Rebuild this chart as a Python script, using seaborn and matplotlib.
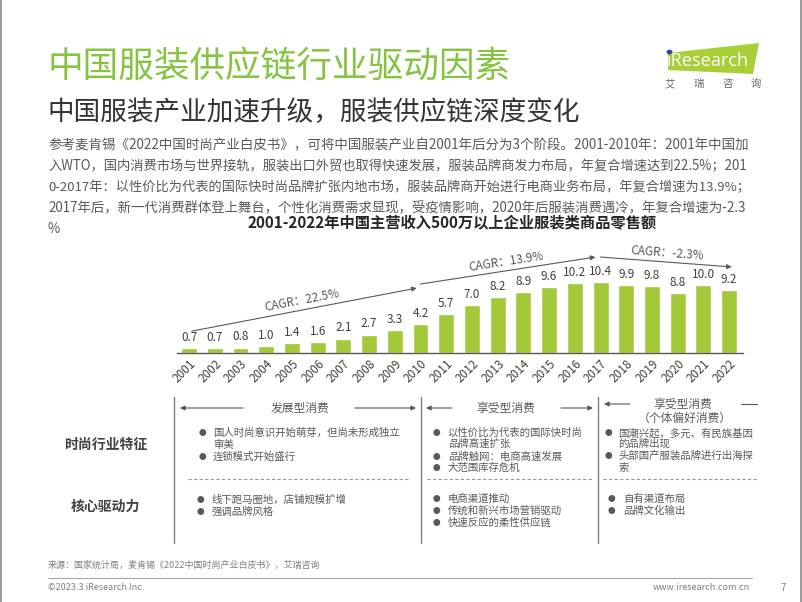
import matplotlib
matplotlib.use("Agg")
import numpy as np
import pandas as pd
import matplotlib.pyplot as plt
import seaborn as sns
from matplotlib.patches import FancyArrowPatch, Polygon, Circle
from matplotlib.lines import Line2D

# ---------------- data ----------------
years = ["2001", "2002", "2003", "2004", "2005", "2006", "2007", "2008", "2009", "2010", "2011",
         "2012", "2013", "2014", "2015", "2016", "2017", "2018", "2019", "2020", "2021", "2022"]
values = [0.7, 0.7, 0.8, 1.0, 1.4, 1.6, 2.1, 2.7, 3.3, 4.2, 5.7,
          7.0, 8.2, 8.9, 9.6, 10.2, 10.4, 9.9, 9.8, 8.8, 10.0, 9.2]
cagr_labels = ["CAGR：22.5%", "CAGR：13.9%", "CAGR：-2.3%"]

title = "中国服装供应链行业驱动因素"
subtitle = "中国服装产业加速升级，服装供应链深度变化"
paragraph = [
    "参考麦肯锡《2022中国时尚产业白皮书》，可将中国服装产业自2001年后分为3个阶段。2001-2010年：2001年中国加",
    "入WTO，国内消费市场与世界接轨，服装出口外贸也取得快速发展，服装品牌商发力布局，年复合增速达到22.5%；201",
    "0-2017年：以性价比为代表的国际快时尚品牌扩张内地市场，服装品牌商开始进行电商业务布局，年复合增速为13.9%；",
    "2017年后，新一代消费群体登上舞台，个性化消费需求显现，受疫情影响，2020年后服装消费遇冷，年复合增速为-2.3",
    "%",
]
chart_title = "2001-2022年中国主营收入500万以上企业服装类商品零售额"
row_labels = ["时尚行业特征", "核心驱动力"]
stage_labels = ["发展型消费", "享受型消费", "享受型消费\n（个体偏好消费）"]
stage1_feat = [("国人时尚意识开始萌芽，但尚未形成独立", True), ("审美", False), ("连锁模式开始盛行", True)]
stage1_drv = [("线下跑马圈地，店铺规模扩增", True), ("强调品牌风格", True)]
stage2_feat = [("以性价比为代表的国际快时尚", True), ("品牌高速扩张", False),
               ("品牌触网：电商高速发展", True), ("大范围库存危机", True)]
stage2_drv = [("电商渠道推动", True), ("传统和新兴市场营销驱动", True), ("快速反应的柔性供应链", True)]
stage3_feat = [("国潮兴起，多元、有民族基因", True), ("的品牌出现", False),
               ("头部国产服装品牌进行出海探", True), ("索", False)]
stage3_drv = [("自有渠道布局", True), ("品牌文化输出", True)]
source = "来源：国家统计局，麦肯锡《2022中国时尚产业白皮书》，艾瑞咨询"
copyright_txt = "©2023.3 iResearch Inc."
website = "www.iresearch.com.cn"
page_no = "7"

# ---------------- style ----------------
sns.set_theme(style="white")
plt.rcParams["font.family"] = ["Noto Sans CJK SC", "DejaVu Sans"]

GREEN_T = "#84C441"
BAR = "#A3C83A"
LOGO = "#A8CE38"
TXT = "#595959"
DARK = "#404040"

W, H = 802, 602
fig = plt.figure(figsize=(W / 100, H / 100), dpi=100)
fig.patch.set_facecolor("white")


def F(x, y):
    return (x / W, 1 - y / H)


def T(x, y, s, **kw):
    kw.setdefault("color", TXT)
    return fig.text(x / W, 1 - y / H, s, **kw)


renderer = fig.canvas.get_renderer()


def fit(t, target):
    w = t.get_window_extent(renderer).width
    t.set_fontsize(t.get_fontsize() * target / w)


# slide border (left/right)
for xx in (0.8, 801.2):
    fig.add_artist(Line2D([xx / W, xx / W], [0, 1], transform=fig.transFigure, color="#8a8a8a", lw=1.2))

# titles
t = T(48, 67, title, fontsize=25.5, color=GREEN_T, va="center", ha="left")
fit(t, 463)
t = T(48, 112, subtitle, fontsize=19, color="#333333", va="center", ha="left")
fit(t, 532)

# logo
poly = Polygon([F(668, 53), F(759, 43), F(753, 74), F(668, 70)], closed=True,
               transform=fig.transFigure, facecolor=LOGO, edgecolor="none")
fig.add_artist(poly)
t = T(667, 61, "\u0131Research", fontsize=13, color="white", va="center", ha="left",
      family=["Open Sans", "DejaVu Sans"])
fit(t, 82)
fig.add_artist(Circle(F(669.5, 52.0), 2.2 / W, transform=fig.transFigure, color="#2B4C8C"))
for cx, ch in zip([670, 699, 728, 756], ["艾", "瑞", "咨", "询"]):
    T(cx, 84, ch, fontsize=7.5, color="#666666", ha="center", va="center")

# paragraph
ys = [145, 166, 187, 208, 229]
for i, (line, yy) in enumerate(zip(paragraph, ys)):
    t = T(48, yy, line, fontsize=9.6, va="center", ha="left")
    if i < 4:
        fit(t, 702)

# chart title
T(452, 222, chart_title, fontsize=11, color="#262626", weight="bold", ha="center", va="center")

# ---------------- bar chart ----------------
x0, x1, ybase, ytop = 177, 743, 353, 250
ax = fig.add_axes([x0 / W, 1 - ybase / H, (x1 - x0) / W, (ybase - ytop) / H])
df = pd.DataFrame({"year": years, "value": values})
sns.barplot(data=df, x="year", y="value", color=BAR, saturation=1, width=0.62, ax=ax)
ax.set_xlim(-0.47, 21.54)
ax.set_ylim(0, (ybase - ytop) / 6.83)
ax.set_facecolor("none")
for s in ["top", "right", "left"]:
    ax.spines[s].set_visible(False)
ax.spines["bottom"].set_color("#595959")
ax.spines["bottom"].set_linewidth(1.0)
ax.set_yticks([])
ax.set_xlabel("")
ax.set_ylabel("")
ax.tick_params(axis="x", length=0, pad=3, labelsize=8.5, labelcolor=DARK)
for lab in ax.get_xticklabels():
    lab.set_rotation(45)
    lab.set_ha("right")
    lab.set_va("top")
    lab.set_rotation_mode("anchor")
ax.bar_label(ax.containers[0], labels=[f"{v:.1f}" for v in values], padding=3,
             fontsize=8.5, color=DARK)

# CAGR arrows (data coordinates)
segs = [((0.1, 3.2), (8.85, 9.5)), ((9.0, 10.1), (15.8, 14.05)), ((16.0, 14.05), (21.1, 12.6))]
for (p0, p1), lab in zip(segs, cagr_labels):
    arr = FancyArrowPatch(p0, p1, transform=ax.transData, arrowstyle="-|>", mutation_scale=7,
                          color="#595959", lw=0.8, shrinkA=0, shrinkB=0, clip_on=False)
    ax.add_patch(arr)
    d0 = ax.transData.transform(p0)
    d1 = ax.transData.transform(p1)
    ang = np.degrees(np.arctan2(d1[1] - d0[1], d1[0] - d0[0]))
    mid = (d0 + d1) / 2
    nrm = np.array([-np.sin(np.radians(ang)), np.cos(np.radians(ang))])
    pos = mid + nrm * 9
    fig.text(pos[0] / W, pos[1] / H, lab, rotation=ang, rotation_mode="anchor",
             ha="center", va="center", fontsize=8.5, color=TXT)

# ---------------- table ----------------
for xx in (174, 421, 598):
    fig.add_artist(Line2D([xx / W, xx / W], [1 - 397 / H, 1 - 543 / H], transform=fig.transFigure,
                          color="#7f7f7f", lw=1.0))
for a, b in [(188, 410), (427, 592), (603, 757)]:
    fig.add_artist(Line2D([a / W, b / W], [1 - 479 / H, 1 - 479 / H], transform=fig.transFigure,
                          color="#9a9a9a", lw=0.8, linestyle=(0, (3, 2))))


def arrow(xa, xb, y):
    fig.add_artist(FancyArrowPatch(F(xa, y), F(xb, y), transform=fig.transFigure, arrowstyle="-|>",
                                   mutation_scale=7, color="#595959", lw=0.8, shrinkA=0, shrinkB=0))


T(300, 408, stage_labels[0], fontsize=8.5, ha="center", va="center")
arrow(243, 180, 408)
arrow(355, 416, 408)
T(506, 408, stage_labels[1], fontsize=8.5, ha="center", va="center")
arrow(452, 426, 408)
arrow(561, 593, 408)
s3 = stage_labels[2].split("\n")
T(683, 404, s3[0], fontsize=8.5, ha="center", va="center")
T(685, 418, s3[1], fontsize=8.5, ha="center", va="center")
arrow(630, 604, 404)
fig.add_artist(Line2D([741 / W, 757 / W], [1 - 404 / H, 1 - 404 / H], transform=fig.transFigure,
                      color="#595959", lw=0.8))

T(106, 445, row_labels[0], fontsize=10, weight="bold", color=DARK, ha="center", va="center")
T(105, 507, row_labels[1], fontsize=10, weight="bold", color=DARK, ha="center", va="center")


def bullets(items, bx, tx, y_list):
    for (s, b), yy in zip(items, y_list):
        if b:
            T(bx, yy, "●", fontsize=5.5, ha="center", va="center")
        T(tx, yy, s, fontsize=7.5, ha="left", va="center")


bullets(stage1_feat, 202, 213, [433, 445, 457])
bullets(stage1_drv, 200, 212, [500, 512])
bullets(stage2_feat, 436, 448, [433, 444, 457, 468])
bullets(stage2_drv, 436, 448, [499, 511, 523])
bullets(stage3_feat, 608, 618, [433, 444, 456, 468])
bullets(stage3_drv, 611, 623, [499, 511])

# ---------------- footer ----------------
T(48, 565, source, fontsize=6.5, color="#7f7f7f", ha="left", va="center")
fig.add_artist(Line2D([48 / W, 752 / W], [1 - 578 / H, 1 - 578 / H], transform=fig.transFigure,
                      color="#a6a6a6", lw=0.8))
T(48, 588, copyright_txt, fontsize=6.5, color="#7f7f7f", ha="left", va="center")
T(750, 588, website, fontsize=6.5, color="#7f7f7f", ha="right", va="center")
T(783, 588, page_no, fontsize=7, color="#7f7f7f", ha="center", va="center")

fig.savefig("out.png", dpi=100, facecolor="white")
